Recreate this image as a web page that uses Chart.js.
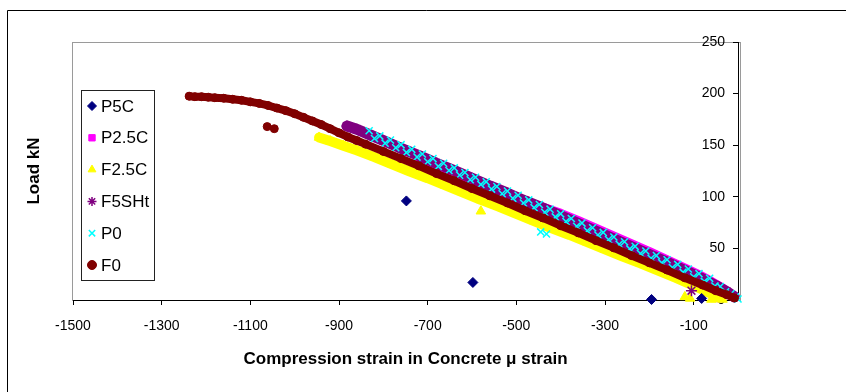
<!DOCTYPE html>
<html>
<head>
<meta charset="utf-8">
<script src="https://cdn.jsdelivr.net/npm/chart.js@4.4.1/dist/chart.umd.min.js"></script>
<style>
    html, body { margin: 0; padding: 0; background: #fff; }
    #wrap { width: 846px; height: 392px; }
</style>
</head>
<body>
<div id="wrap"><canvas id="chart" width="846" height="392"></canvas></div>
<script>
// compression strain (micro strain, negative) against load (kN)
var p5cStrain = [-748, -598, -195, -82];
var p5cLoad   = [96, 17, 0.5, 1.5];

var p25cStrain = [-720, -660, -600, -540, -480, -440, -400, -360, -320, -280, -240, -200, -160, -120, -90, -60, -35, -15];
var p25cLoad   = [135, 124, 113, 102, 93, 89.5, 83.5, 76.5, 69, 61.5, 54, 46.5, 38.5, 30.5, 24.5, 17.5, 11, 5];
var p25cStrayStrain = [-42];
var p25cStrayLoad   = [1];

var f25cStrain = [-945, -920, -890, -860, -820, -780, -740, -700, -660, -620, -580, -540, -500, -460, -420, -380, -340, -300, -260, -220, -180, -140, -100, -70, -45];
var f25cLoad   = [157.5, 154, 149.5, 145, 138.5, 131.5, 124.5, 118, 111, 104, 97, 90.5, 83.5, 76.5, 69.5, 63, 56, 49, 42, 35.5, 28.5, 21.5, 14, 8, 3];
var f25cStrayStrain = [-580, -120, -108, -60, -50, -35];
var f25cStrayLoad   = [86, 3, 1.5, 0.5, 1, 0.5];

var f5shtStrain = [-882, -860, -830, -800, -760, -720, -680, -640, -600, -560, -520, -480, -440, -400, -360, -320, -280, -240, -200, -160, -120, -80, -50, -25, -8];
var f5shtLoad   = [168.5, 165.5, 160, 154.5, 147, 140, 132.5, 125.5, 118, 110.5, 103.5, 96, 89, 81.5, 74, 66.5, 59, 51.5, 44, 36.5, 28.5, 20.5, 14, 8, 3];
var f5shtStrayStrain = [-105];
var f5shtStrayLoad   = [9];

var p0Strain = [-832, -820, -808, -796, -784, -772, -760, -748, -736, -724, -712, -700, -688, -676, -664, -652, -640, -628, -616, -604,
                -592, -580, -568, -556, -544, -532, -520, -508, -496, -484, -472, -460, -448, -436, -424, -412, -400, -388, -376, -364,
                -352, -340, -328, -316, -304, -292, -280, -268, -256, -244, -232, -220, -208, -196, -184, -172, -160, -148, -136, -124,
                -112, -100, -88, -76, -64, -52, -40, -28, -16, -6, 0];
var p0Load   = [164, 156.5, 159, 152, 155, 147.5, 150.5, 143, 146, 138.5, 141.5, 134, 137, 129.5, 132.5, 125.5, 128, 121, 123.5, 116.5,
                119, 112, 114.5, 107.5, 110, 103, 105.5, 98.5, 101.5, 94, 97, 89.5, 92.5, 85, 88, 80.5, 83.5, 76, 79, 71.5,
                74.5, 67, 70, 63, 65.5, 58.5, 61, 54, 56.5, 49.5, 52, 45, 47.5, 40.5, 43, 36, 39, 31.5, 34.5, 27,
                30, 22.5, 25.5, 18, 21, 13.5, 13, 8, 6, 3, 1];
var p0StrayStrain = [-445, -432];
var p0StrayLoad   = [66, 64];

var f0Strain = [-1238, -1225, -1210, -1195, -1180, -1160, -1140, -1120, -1100, -1080, -1060, -1040, -1020, -1000, -980, -960, -940, -920, -900, -880, -860, -840, -800, -760, -720, -680, -640, -600, -560, -520, -480, -440, -400, -360, -320, -280, -240, -200, -160, -120, -80, -50, -25, -8];
var f0Load   = [197.5, 197, 197, 196.5, 196, 195.5, 194.5, 193.5, 192, 190.5, 188.5, 186, 183.5, 180.5, 177, 173.5, 170, 166, 162, 158, 154.5, 151, 144, 137, 130, 122.5, 115.5, 108, 101, 94, 86.5, 79.5, 72, 65, 57.5, 50.5, 43, 36, 29, 21.5, 14.5, 9, 5, 2];
var f0StrayStrain = [-1062, -1046];
var f0StrayLoad   = [168, 166];

var xTicks = [-1500, -1300, -1100, -900, -700, -500, -300, -100];
var yTicks = [0, 50, 100, 150, 200, 250];

var FONT = '"Liberation Sans", Arial, sans-serif';

function pts(xs, ys){
    var out = [];
    for(var i = 0; i < xs.length; i++){
        out.push({x: xs[i], y: ys[i]});
    }
    return out;
}

// legend order = series order; "order" decides what is painted on top (lower = on top)
var series = [
    {label: 'P5C',   color: '#000080', style: 'rectRot',  radius: 5,   bw: 1,   line: 0,  order: -1, band: [p5cStrain, p5cLoad]},
    {label: 'P2.5C', color: '#FF00FF', style: 'rect',     radius: 4,   bw: 1,   line: 10, order: 4,  band: [p25cStrain, p25cLoad], stray: [p25cStrayStrain, p25cStrayLoad]},
    {label: 'F2.5C', color: '#FFFF00', style: 'triangle', radius: 5.5, bw: 1,   line: 10, order: 3,  band: [f25cStrain, f25cLoad], stray: [f25cStrayStrain, f25cStrayLoad]},
    {label: 'F5SHt', color: '#800080', style: 'star',     radius: 5.5, bw: 1.5, line: 11, order: 2,  band: [f5shtStrain, f5shtLoad], stray: [f5shtStrayStrain, f5shtStrayLoad]},
    {label: 'P0',    color: '#00FFFF', style: 'crossRot', radius: 5,   bw: 1.5, line: 0,  order: 1,  band: [p0Strain, p0Load], stray: [p0StrayStrain, p0StrayLoad]},
    {label: 'F0',    color: '#800000', style: 'circle',   radius: 4,   bw: 1,   line: 8,  order: 0,  band: [f0Strain, f0Load], stray: [f0StrayStrain, f0StrayLoad]}
];

var datasets = [];
series.forEach(function(s){
    var base = {
        label: s.label,
        pointStyle: s.style,
        pointRadius: s.radius,
        pointBorderWidth: s.bw,
        pointBackgroundColor: s.color,
        pointBorderColor: s.color,
        borderColor: s.color,
        backgroundColor: s.color,
        order: s.order,
        clip: false
    };
    datasets.push(Object.assign({}, base, {
        data: pts(s.band[0], s.band[1]),
        showLine: s.line > 0,
        borderWidth: s.line,
        borderJoinStyle: 'round',
        borderCapStyle: 'round'
    }));
    if(s.stray){
        datasets.push(Object.assign({}, base, {
            data: pts(s.stray[0], s.stray[1]),
            showLine: false
        }));
    }
});

var framePlugin = {
    id: 'frame',
    beforeDraw: function(chart){
        var c = chart.ctx, a = chart.chartArea;
        c.save();
        c.fillStyle = '#fff';
        c.fillRect(0, 0, chart.width, chart.height);
        c.strokeStyle = '#000';
        c.lineWidth = 1;
        c.beginPath();
        c.moveTo(7.5, chart.height);
        c.lineTo(7.5, 10.5);
        c.lineTo(chart.width, 10.5);
        c.stroke();
        c.strokeStyle = '#9a9a9a';
        c.strokeRect(a.left - 0.5, a.top + 0.5, a.right - a.left + 3, a.bottom - a.top);
        c.restore();
    }
};

var legendPlugin = {
    id: 'boxLegend',
    afterDraw: function(chart){
        var c = chart.ctx, x0 = 81, y0 = 90, w = 73, h = 190, step = 31.8;
        c.save();
        c.fillStyle = '#fff';
        c.fillRect(x0, y0, w, h);
        c.strokeStyle = '#222';
        c.lineWidth = 1;
        c.strokeRect(x0 + 0.5, y0 + 0.5, w, h);
        c.font = '17px ' + FONT;
        c.textBaseline = 'middle';
        series.forEach(function(s, i){
            var y = y0 + 16 + i * step;
            c.fillStyle = s.color;
            c.strokeStyle = s.color;
            c.lineWidth = s.bw;
            Chart.helpers.drawPoint(c, {pointStyle: s.style, radius: 4.5, borderWidth: s.bw, rotation: 0}, x0 + 11, y);
            c.fillStyle = '#000';
            c.fillText(s.label, x0 + 20, y + 1);
        });
        c.restore();
    }
};

var chart = new Chart(document.getElementById('chart').getContext('2d'), {
    type: 'scatter',
    data: {datasets: datasets},
    options: {
        responsive: false,
        animation: false,
        layout: {padding: {top: 42, left: 24, right: 0, bottom: 0}},
        plugins: {legend: {display: false}, tooltip: {enabled: false}},
        scales: {
            x: {
                type: 'linear', position: 'bottom', min: -1500, max: 0,
                afterBuildTicks: function(scale){ scale.ticks = xTicks.map(function(v){ return {value: v}; }); },
                afterFit: function(scale){ scale.height = 92; },
                ticks: {autoSkip: false, maxRotation: 0, padding: 13, color: '#000', font: {family: FONT, size: 14},
                        callback: function(v){ return String(v); }},
                grid: {drawOnChartArea: false, tickLength: 5, color: '#000'},
                border: {color: '#000', width: 1},
                title: {display: true, text: 'Compression strain in Concrete \u03bc strain', color: '#000',
                        font: {family: FONT, size: 17, weight: 'bold'}, padding: {top: 0, bottom: 22}}
            },
            y: {
                type: 'linear', position: 'right', min: 0, max: 250, z: 1,
                afterBuildTicks: function(scale){ scale.ticks = yTicks.map(function(v){ return {value: v}; }); },
                afterFit: function(scale){ scale.width = 108; },
                ticks: {mirror: true, padding: -13, color: '#000', font: {family: FONT, size: 14},
                        callback: function(v){ return String(v); }},
                grid: {drawOnChartArea: false, tickLength: -5, color: '#000'},
                border: {color: '#000', width: 1}
            },
            yTitle: {
                type: 'linear', position: 'left',
                afterFit: function(scale){ scale.width = 49; },
                ticks: {display: false},
                grid: {display: false},
                border: {display: false},
                title: {display: true, text: 'Load kN', color: '#000',
                        font: {family: FONT, size: 17, weight: 'bold'}, padding: 0}
            }
        }
    },
    plugins: [framePlugin, legendPlugin]
});
</script>
</body>
</html>
